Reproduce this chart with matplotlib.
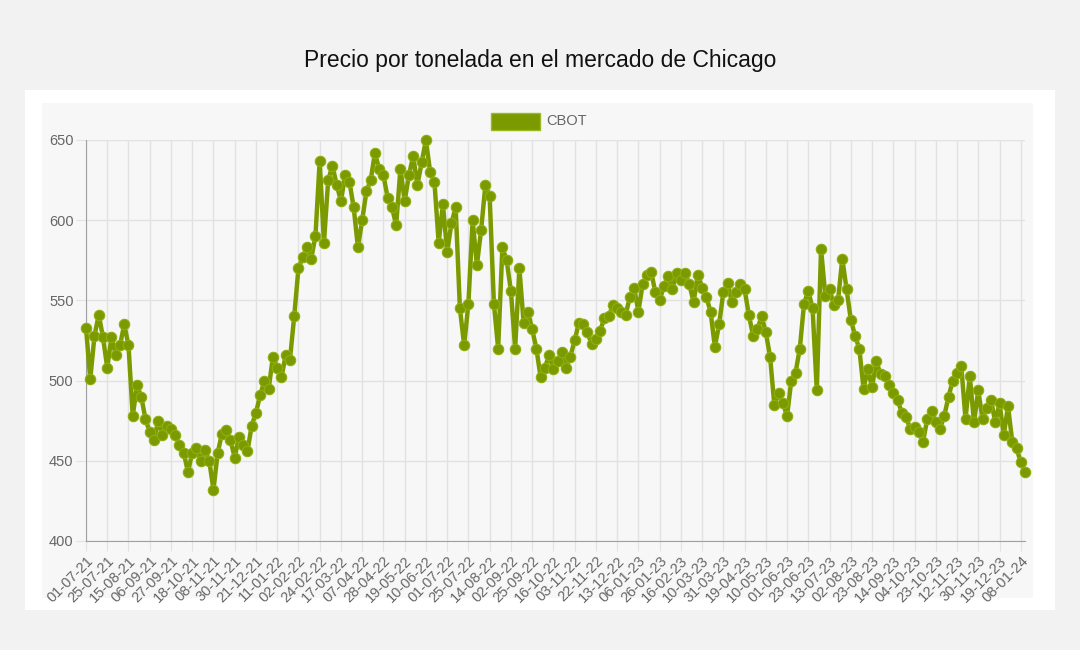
import matplotlib
matplotlib.use("Agg")
import matplotlib.pyplot as plt
from matplotlib.patches import Rectangle

# Etiquetas del eje X (una cada 5 valores)
fechas = ['01-07-21', '25-07-21', '15-08-21', '06-09-21', '27-09-21', '18-10-21',
          '08-11-21', '30-11-21', '21-12-21', '11-01-22', '02-02-22', '24-02-22',
          '17-03-22', '07-04-22', '28-04-22', '19-05-22', '10-06-22', '01-07-22',
          '25-07-22', '14-08-22', '02-09-22', '25-09-22', '16-10-22', '03-11-22',
          '22-11-22', '13-12-22', '06-01-23', '26-01-23', '16-02-23', '10-03-23',
          '31-03-23', '19-04-23', '10-05-23', '01-06-23', '23-06-23', '13-07-23',
          '02-08-23', '23-08-23', '14-09-23', '04-10-23', '23-10-23', '12-11-23',
          '30-11-23', '19-12-23', '08-01-24']

# Precio CBOT (USD/t)
precios = [
    533, 501, 528, 541, 527,
    508, 527, 516, 522, 535,
    522, 478, 497, 490, 476,
    468, 463, 475, 466, 472,
    470, 466, 460, 455, 443,
    455, 458, 450, 457, 450,
    432, 455, 467, 469, 463,
    452, 465, 460, 456, 472,
    480, 491, 500, 495, 515,
    508, 502, 516, 513, 540,
    570, 577, 583, 576, 590,
    637, 586, 625, 634, 622,
    612, 628, 624, 608, 583,
    600, 618, 625, 642, 632,
    628, 614, 608, 597, 632,
    612, 628, 640, 622, 636,
    650, 630, 624, 586, 610,
    580, 598, 608, 545, 522,
    548, 600, 572, 594, 622,
    615, 548, 520, 583, 575,
    556, 520, 570, 536, 543,
    532, 520, 502, 508, 516,
    507, 512, 518, 508, 515,
    525, 536, 535, 530, 523,
    526, 531, 539, 540, 547,
    545, 543, 541, 552, 558,
    543, 560, 566, 568, 555,
    550, 559, 565, 557, 567,
    563, 567, 560, 549, 566,
    558, 552, 543, 521, 535,
    555, 561, 549, 555, 560,
    557, 541, 528, 532, 540,
    530, 515, 485, 492, 486,
    478, 500, 505, 520, 548,
    556, 545, 494, 582, 553,
    557, 547, 550, 576, 557,
    538, 528, 520, 495, 507,
    496, 512, 504, 503, 497,
    492, 488, 480, 477, 470,
    471, 468, 462, 476, 481,
    474, 470, 478, 490, 500,
    505, 509, 476, 503, 474,
    494, 476, 483, 488, 474,
    486, 466, 484, 462, 458,
    449, 443,
]

y_ticks = [400, 450, 500, 550, 600, 650]

verde = '#7b9a00'
gris_txt = '#666666'
plt.rcParams['font.family'] = ['Liberation Sans', 'DejaVu Sans']

fig = plt.figure(figsize=(10.8, 6.5), dpi=100)
fig.patch.set_facecolor('#f2f2f2')

# paneles de fondo
fig.patches.append(Rectangle((25 / 1080, 40 / 650), 1030 / 1080, 520 / 650,
                             transform=fig.transFigure, facecolor='white',
                             edgecolor='none', zorder=-2))
fig.patches.append(Rectangle((42 / 1080, 52 / 650), 991 / 1080, 495 / 650,
                             transform=fig.transFigure, facecolor='#f7f7f7',
                             edgecolor='none', zorder=-1))

fig.text(0.5, 1 - 61 / 650, 'Precio por tonelada en el mercado de Chicago',
         ha='center', va='center', fontsize=16.5, color='#111111')

ax = fig.add_axes([86 / 1080, 1 - 541 / 650, 939 / 1080, 401 / 650])
ax.set_facecolor('none')

x = list(range(len(precios)))
ax.plot(x, precios, color=verde, linewidth=3.2, marker='o', markersize=7.5,
        markerfacecolor=verde, markeredgecolor='#8fae10', markeredgewidth=0.8,
        zorder=3, clip_on=False)

ax.set_xlim(0, len(precios) - 1)
ax.set_ylim(400, 650)
ax.set_yticks(y_ticks)
ax.set_xticks(range(0, 5 * len(fechas), 5))
ax.set_xticklabels(fechas, rotation=45, ha='right', va='top',
                   rotation_mode='anchor')

ax.grid(True, color='#e2e2e2', linewidth=1)
ax.set_axisbelow(True)
for s in ['top', 'right']:
    ax.spines[s].set_visible(False)
for s in ['left', 'bottom']:
    ax.spines[s].set_color('#a0a0a0')
ax.tick_params(axis='both', colors='#e2e2e2', length=7, labelcolor=gris_txt,
               labelsize=10.5)
ax.tick_params(axis='y', pad=2)
ax.tick_params(axis='x', pad=2)

# leyenda
fig.patches.append(Rectangle((491 / 1080, 1 - 130 / 650), 49 / 1080, 17 / 650,
                             transform=fig.transFigure, facecolor=verde,
                             edgecolor='#9ab820', linewidth=1))
fig.text(546 / 1080, 1 - 121 / 650, 'CBOT', ha='left', va='center',
         fontsize=10.5, color=gris_txt)

fig.savefig('out.png', dpi=100, facecolor=fig.get_facecolor())
